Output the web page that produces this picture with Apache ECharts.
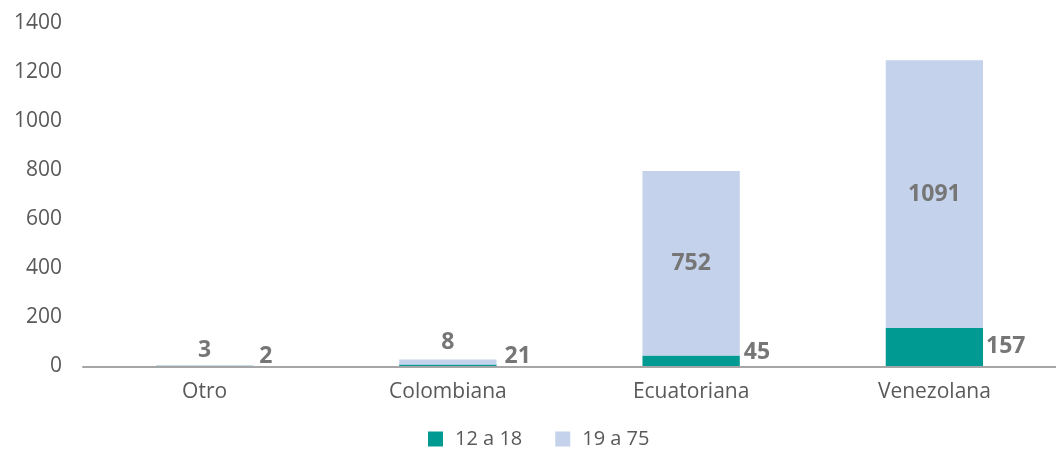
<!DOCTYPE html>
<html>
<head>
<meta charset="utf-8">
<script src="https://cdn.jsdelivr.net/npm/echarts@6/dist/echarts.min.js"></script>
<style>
  html, body { margin: 0; padding: 0; background: #ffffff; }
  #chart { width: 1056px; height: 450px; }
</style>
</head>
<body>
<div id="chart"></div>
<script>
// Nationalities on the x axis
const categories = ['Otro', 'Colombiana', 'Ecuatoriana', 'Venezolana'];
// Counts per age group
const teen = [3, 8, 45, 157];       // 12 a 18
const adult = [2, 21, 752, 1091];   // 19 a 75
const seriesNames = ['12 a 18', '19 a 75'];
const yTicks = { min: 0, max: 1400, interval: 200 };

const FONT = '"Open Sans", sans-serif';
const labelBase = { show: true, fontFamily: FONT, fontSize: 23, fontWeight: 'bold', color: '#767676' };

// Per-category label placement for the small stacks (styling only)
const teenLabelPos = [
  { position: 'top', offset: [0, 1] },
  { position: 'top', offset: [0, -6] },
  { position: 'right', offset: [0, -9], distance: 4 },
  { position: 'right', offset: [0, -1], distance: 3 }
];
const adultLabelPos = [
  { position: 'right', offset: [0, -9], distance: 6 },
  { position: 'right', offset: [0, -6], distance: 8 },
  { position: 'inside' },
  { position: 'inside' }
];

function buildData(values, positions) {
  return values.map((v, i) => ({
    value: v,
    label: Object.assign({}, labelBase, positions[i])
  }));
}

const chart = echarts.init(document.getElementById('chart'), null, { renderer: 'canvas' });
chart.setOption({
  animation: false,
  backgroundColor: '#ffffff',
  grid: { left: 83, right: 0, top: 23, bottom: 83.5, containLabel: false },
  legend: {
    data: seriesNames,
    bottom: -4,
    left: 423,
    itemWidth: 15,
    itemHeight: 15,
    itemGap: 33,
    icon: 'rect',
    textStyle: { fontFamily: FONT, fontSize: 20, color: '#595959', padding: [0, 0, 0, 7] }
  },
  xAxis: {
    type: 'category',
    data: categories,
    z: 5,
    axisLine: { lineStyle: { color: '#A6A6A6', width: 2 } },
    axisTick: { show: false },
    axisLabel: { fontFamily: FONT, fontSize: 21, color: '#595959', margin: 15 }
  },
  yAxis: {
    type: 'value',
    min: yTicks.min,
    max: yTicks.max,
    interval: yTicks.interval,
    axisLine: { show: false },
    axisTick: { show: false },
    splitLine: { show: false },
    axisLabel: {
      fontFamily: FONT, fontSize: 21, color: '#595959', margin: 21,
      formatter: (v) => String(v)
    }
  },
  series: [
    {
      name: seriesNames[0],
      type: 'bar',
      stack: 'total',
      barWidth: '40%',
      itemStyle: { color: '#009A93' },
      data: buildData(teen, teenLabelPos)
    },
    {
      name: seriesNames[1],
      type: 'bar',
      stack: 'total',
      barWidth: '40%',
      itemStyle: { color: '#C5D2EC' },
      data: buildData(adult, adultLabelPos)
    }
  ]
});
</script>
</body>
</html>
